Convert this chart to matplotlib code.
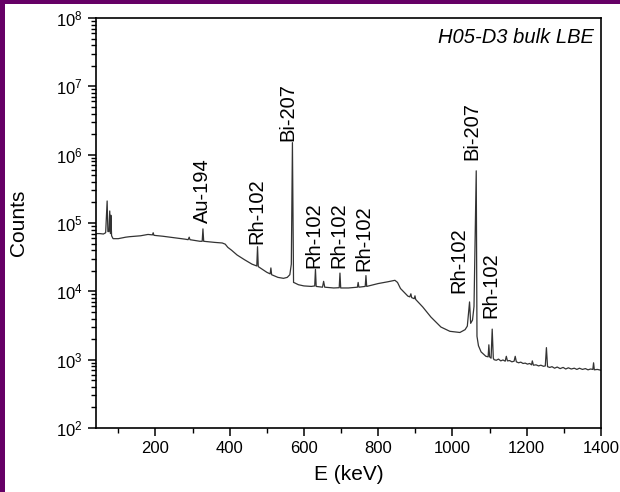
import matplotlib
matplotlib.use("Agg")
import matplotlib.pyplot as plt
from matplotlib.patches import Rectangle
from matplotlib.ticker import FixedLocator, LogLocator, NullFormatter

plt.rcParams['font.family'] = ['Liberation Sans', 'DejaVu Sans']
plt.rcParams['mathtext.fontset'] = 'custom'
plt.rcParams['mathtext.rm'] = 'Liberation Sans'
plt.rcParams['mathtext.it'] = 'Liberation Sans:italic'

# ---- spectrum (energy in keV, counts) ----
energy = [40, 50, 60, 66, 70, 72, 75, 77, 79, 80, 82, 86, 100, 120, 130, 160, 180, 192, 194, 196,
          220, 250, 280, 288, 291, 293, 320, 326, 328, 330, 360, 380, 388, 395, 405, 420, 440, 460,
          473, 475, 477, 500, 509, 511, 513, 530, 545, 555, 562, 566, 569, 572, 575, 585, 600, 620,
          629, 631, 633, 650, 653, 656, 680, 695, 697, 699, 720, 744, 746, 748, 765, 767, 769, 800,
          826, 845, 852, 860, 880, 885, 888, 890, 897, 899, 901, 920, 942, 969, 993, 1020, 1034,
          1040, 1046, 1049, 1054, 1058, 1064, 1066, 1070, 1077, 1090, 1096, 1098, 1100, 1104, 1107,
          1110, 1112, 1118, 1124, 1130, 1136, 1142, 1145, 1148, 1154, 1160, 1166, 1169, 1172, 1178,
          1184, 1190, 1196, 1202, 1208, 1213, 1215, 1218, 1225, 1232, 1238, 1245, 1250, 1253, 1256,
          1262, 1268, 1275, 1282, 1290, 1298, 1305, 1312, 1320, 1328, 1335, 1342, 1350, 1358, 1365,
          1372, 1378, 1380, 1382, 1390, 1400]
counts = [7.0e4, 7.0e4, 6.9e4, 7.2e4, 2.1e5, 7.5e4, 7.5e4, 1.5e5, 7.0e4, 1.3e5, 6.5e4, 5.9e4, 5.9e4,
          6.2e4, 6.3e4, 6.5e4, 6.8e4, 6.7e4, 7.2e4, 6.6e4, 6.4e4, 6.1e4, 5.8e4, 5.7e4, 6.2e4, 5.7e4,
          5.4e4, 5.4e4, 8.2e4, 5.4e4, 5.2e4, 5.1e4, 4.9e4, 4.4e4, 4.0e4, 3.4e4, 2.9e4, 2.5e4, 2.35e4,
          4.5e4, 2.3e4, 1.9e4, 1.8e4, 2.2e4, 1.75e4, 1.6e4, 1.55e4, 1.6e4, 1.75e4, 2.5e4, 1.5e6,
          1.35e4, 1.33e4, 1.25e4, 1.2e4, 1.18e4, 1.2e4, 2.1e4, 1.18e4, 1.15e4, 1.4e4, 1.15e4, 1.12e4,
          1.13e4, 1.85e4, 1.12e4, 1.12e4, 1.15e4, 1.35e4, 1.15e4, 1.18e4, 1.7e4, 1.18e4, 1.3e4,
          1.38e4, 1.45e4, 1.35e4, 1.1e4, 8.5e3, 8.3e3, 9.2e3, 8.1e3, 7.8e3, 8.6e3, 7.6e3, 5.9e3,
          4.2e3, 3.0e3, 2.6e3, 2.5e3, 2.75e3, 3.1e3, 7.0e3, 3.4e3, 3.8e3, 6.0e3, 5.8e5, 2.2e3,
          1.6e3, 1.3e3, 1.12e3, 1.1e3, 1.65e3, 1.1e3, 1.05e3, 2.8e3, 1.05e3, 1.0e3, 9.8e2, 1.02e3,
          9.6e2, 9.9e2, 9.5e2, 1.12e3, 9.6e2, 9.7e2, 9.3e2, 9.5e2, 1.12e3, 9.3e2, 9.0e2, 9.2e2,
          8.8e2, 8.9e2, 8.6e2, 8.8e2, 8.4e2, 9.6e2, 8.3e2, 8.4e2, 8.1e2, 8.3e2, 8.0e2, 8.1e2, 1.5e3,
          7.9e2, 7.7e2, 7.9e2, 7.5e2, 7.8e2, 7.4e2, 7.7e2, 7.3e2, 7.6e2, 7.3e2, 7.5e2, 7.2e2, 7.5e2,
          7.2e2, 7.4e2, 7.1e2, 7.3e2, 7.2e2, 9.0e2, 7.1e2, 7.2e2, 7.0e2]

# ---- peak labels (text, energy of label centre, counts at label bottom) ----
label_text = ["Au-194", "Rh-102", "Bi-207", "Rh-102", "Rh-102", "Rh-102", "Rh-102", "Bi-207", "Rh-102"]
label_e = [326, 472, 556, 628, 693, 762, 1017, 1052, 1104]
label_c = [1.0e5, 5.0e4, 1.6e6, 2.2e4, 2.2e4, 2.0e4, 9.3e3, 8.3e5, 4.1e3]

title_text = "H05-D3 bulk LBE"
x_ticks = [200, 400, 600, 800, 1000, 1200, 1400]
y_ticks = [1e2, 1e3, 1e4, 1e5, 1e6, 1e7, 1e8]

fig = plt.figure(figsize=(6.2, 4.92), dpi=100)
fig.patch.set_facecolor('white')
ax = fig.add_axes([96 / 620, 1 - 428 / 492, 505 / 620, 410 / 492])

ax.plot(energy, counts, color='#333333', lw=0.9)
ax.set_yscale('log')
ax.set_xlim(40, 1400)
ax.set_ylim(1e2, 1e8)

ax.xaxis.set_major_locator(FixedLocator(x_ticks))
ax.xaxis.set_minor_locator(FixedLocator([100, 300, 500, 700, 900, 1100, 1300]))
ax.yaxis.set_major_locator(FixedLocator(y_ticks))
ax.yaxis.set_minor_locator(LogLocator(base=10, subs=range(2, 10), numticks=20))
ax.yaxis.set_minor_formatter(NullFormatter())

ax.tick_params(which='major', direction='out', length=6, width=1.1, labelsize=12)
ax.tick_params(which='minor', direction='out', length=3.5, width=1.0)
for s in ax.spines.values():
    s.set_linewidth(1.2)

for t, e, c in zip(label_text, label_e, label_c):
    ax.text(e, c, t, rotation=90, ha='center', va='bottom', fontsize=14.5, color='black')

ax.text(0.985, 0.975, title_text, transform=ax.transAxes, ha='right', va='top',
        fontsize=14.5, style='italic')

ax.set_xlabel("E (keV)", fontsize=15, labelpad=6)
ax.set_ylabel("Counts", fontsize=15, labelpad=20)

fig.patches.append(Rectangle((0, 0), 5 / 620, 1, transform=fig.transFigure,
                             facecolor='#660066', edgecolor='none', zorder=10))
fig.patches.append(Rectangle((0, 1 - 4 / 492), 1, 4 / 492, transform=fig.transFigure,
                             facecolor='#660066', edgecolor='none', zorder=10))

fig.savefig("out.png", dpi=100)
